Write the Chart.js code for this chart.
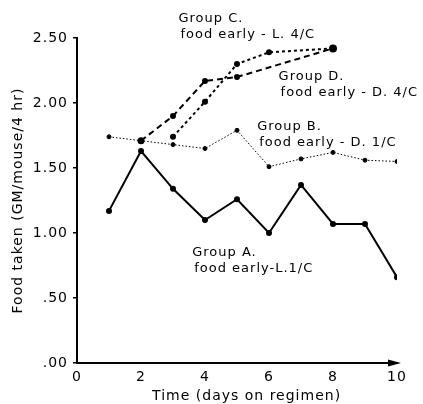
<!DOCTYPE html>
<html><head><meta charset="utf-8">
<script src="https://cdn.jsdelivr.net/npm/chart.js@4.4.0/dist/chart.umd.min.js"></script>
<style>html,body{margin:0;padding:0;background:#fff}#wrap{width:423px;height:404px}</style>
</head><body><div id="wrap"><canvas id="c" width="423" height="404"></canvas></div>
<script>
const days = [1,2,3,4,5,6,7,8,9,10];
const groupA = [1.17,1.63,1.34,1.10,1.26,1.00,1.37,1.07,1.07,0.66];
const groupB = [1.74,1.71,1.68,1.65,1.79,1.51,1.57,1.62,1.56,1.55];
const groupCDays = [3,4,5,6,8];
const groupC = [1.74,2.01,2.30,2.39,2.42];
const groupDDays = [2,3,4,5,8];
const groupD = [1.71,1.90,2.17,2.20,2.42];
const yTickLabels = ['.00','.50','1.00','1.50','2.00','2.50'];
const xTickLabels = ['0','2','4','6','8','10'];
const xTitle = 'Time (days on regimen)';
const yTitle = 'Food taken (GM/mouse/4 hr)';

const labelNotes = [
  {text:['Group C.','food early - L. 4/C'], at:[3.17, 2.65]},
  {text:['Group D.','food early - D. 4/C'], at:[6.3, 2.20]},
  {text:['Group B.','food early - D. 1/C'], at:[5.63, 1.82]},
  {text:['Group A.','food early-L.1/C'], at:[3.6, 0.85]}
];
const xTitleAt = 5.3;

const FONT = "'DejaVu Sans', sans-serif";
const pts = (xs, ys) => xs.map((x,i)=>({x:x, y:ys[i]}));

const spacingPlugin = {
  id:'spacing',
  beforeDraw(chart){ try { chart.ctx.letterSpacing = '1px'; } catch(e) {} }
};

const notesPlugin = {
  id:'notes',
  afterDatasetsDraw(chart){
    const {ctx, scales:{x, y}} = chart;
    ctx.save();
    ctx.fillStyle = '#000';
    ctx.font = '13px ' + FONT;
    ctx.textAlign = 'left';
    ctx.textBaseline = 'middle';
    try { ctx.letterSpacing = '1px'; } catch(e) {}
    labelNotes.forEach(n => {
      const px = x.getPixelForValue(n.at[0]);
      const py = y.getPixelForValue(n.at[1]);
      n.text.forEach((t,i) => ctx.fillText(t, px + (i ? 2 : 0), py + i*16));
    });
    ctx.font = '14px ' + FONT;
    ctx.textAlign = 'center';
    ctx.fillText(xTitle, x.getPixelForValue(xTitleAt), x.bottom - 8);
    ctx.restore();
  }
};

const arrowPlugin = {
  id:'arrow',
  afterDraw(chart){
    const {ctx, scales:{x, y}} = chart;
    const xe = x.getPixelForValue(x.max), yb = y.getPixelForValue(0);
    ctx.save();
    ctx.fillStyle = '#000';
    ctx.beginPath();
    ctx.moveTo(xe + 4, yb);
    ctx.lineTo(xe - 9, yb - 3.5);
    ctx.lineTo(xe - 9, yb + 3.5);
    ctx.closePath();
    ctx.fill();
    ctx.restore();
  }
};

new Chart(document.getElementById('c'), {
  type:'scatter',
  data:{datasets:[
    {label:'Group A', data:pts(days, groupA), showLine:true, borderColor:'#000', backgroundColor:'#000', borderWidth:2, pointRadius:2, pointHoverRadius:2},
    {label:'Group B', data:pts(days, groupB), showLine:true, borderColor:'#000', backgroundColor:'#000', borderWidth:1, borderDash:[1.5,2], pointRadius:2, pointHoverRadius:2},
    {label:'Group C', data:pts(groupCDays, groupC), showLine:true, borderColor:'#000', backgroundColor:'#000', borderWidth:2, borderDash:[3,3], pointRadius:2, pointHoverRadius:2},
    {label:'Group D', data:pts(groupDDays, groupD), showLine:true, borderColor:'#000', backgroundColor:'#000', borderWidth:2, borderDash:[6,4], pointRadius:[2.5,2,2,2,3], pointHoverRadius:2}
  ]},
  options:{
    responsive:false, animation:false, devicePixelRatio:1,
    layout:{padding:{left:0, right:26, top:38, bottom:0}},
    plugins:{legend:{display:false}, tooltip:{enabled:false}},
    scales:{
      x:{type:'linear', min:0, max:10,
        afterFit(s){ s.height = 41; },
        afterBuildTicks(s){ s.ticks = xTickLabels.map(v=>({value:+v})); },
        ticks:{stepSize:2, color:'#000', font:{family:FONT, size:14}, padding:6, maxRotation:0,
          callback:(v)=>xTickLabels[xTickLabels.indexOf(String(v))] },
        grid:{display:true, drawOnChartArea:false, drawTicks:false, color:'#000'},
        border:{display:true, color:'#000', width:2},
        title:{display:false}
      },
      y:{type:'linear', min:0, max:2.5,
        afterFit(s){ s.width = 77; },
        ticks:{stepSize:0.5, color:'#000', font:{family:FONT, size:14}, padding:5,
          callback:(v)=>yTickLabels[Math.round(v/0.5)] },
        grid:{display:true, drawOnChartArea:false, drawTicks:true, tickLength:4, color:'#000', lineWidth:1.5},
        border:{display:true, color:'#000', width:2},
        title:{display:true, text:yTitle, color:'#000', font:{family:FONT, size:14}, padding:{top:10,bottom:0}}
      }
    }
  },
  plugins:[spacingPlugin, notesPlugin, arrowPlugin]
});
</script>
</body></html>
